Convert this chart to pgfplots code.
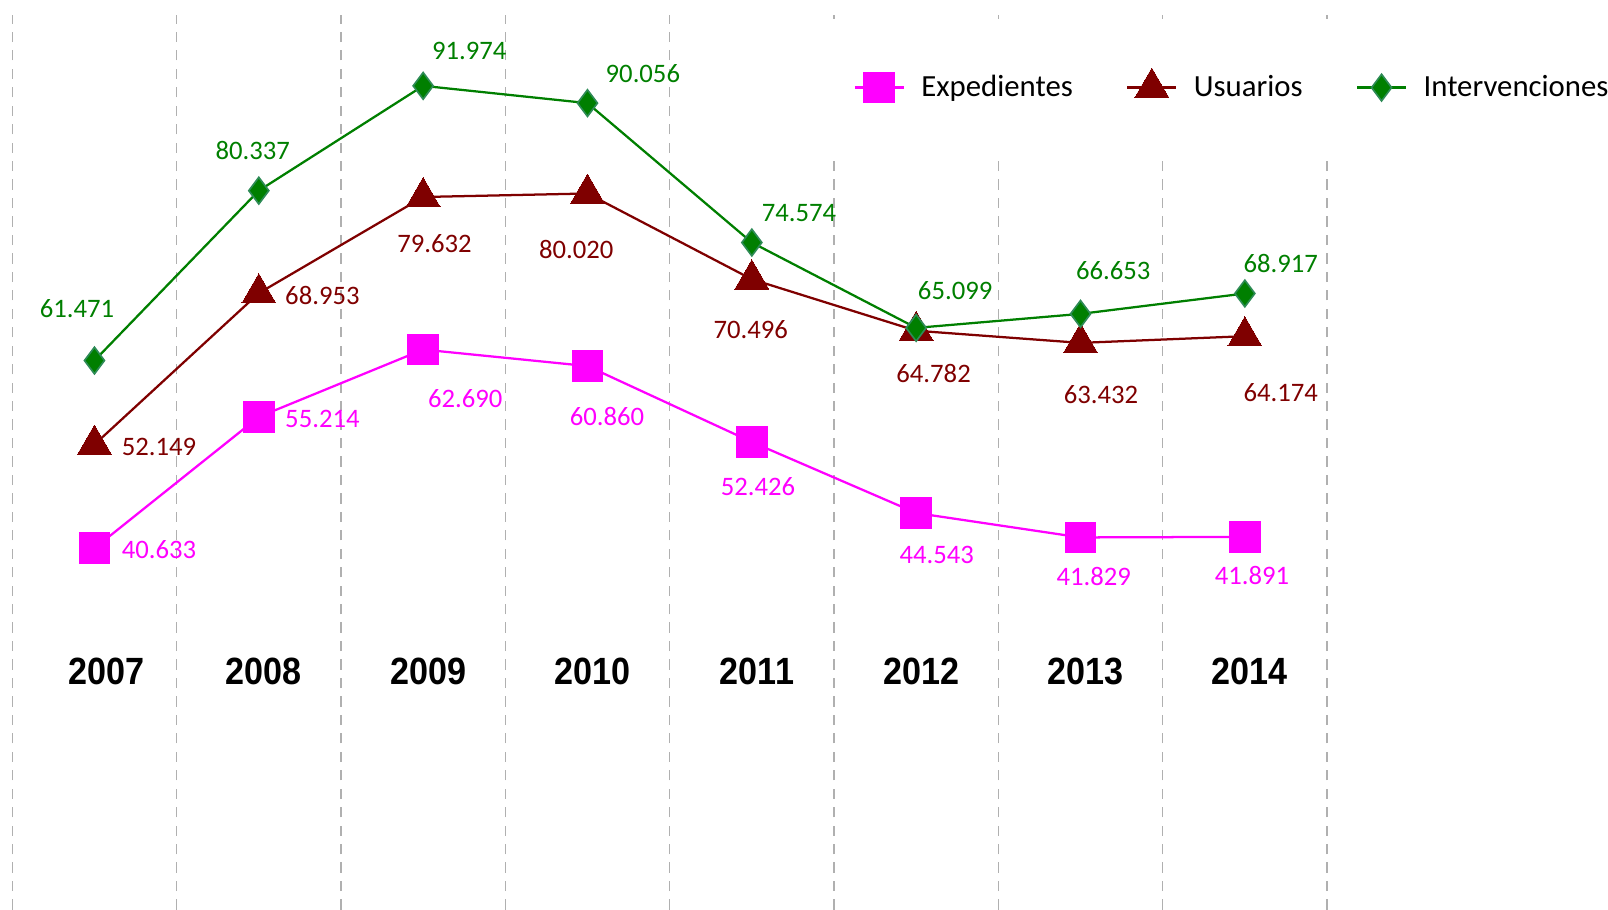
\documentclass[border=0pt]{standalone}
\usepackage{fontspec}
\setmainfont{Carlito}
\newfontfamily\yearfont[FakeStretch=0.9]{Liberation Sans}
\usepackage{pgfplots}
\usepackage{pgfplotstable}
\pgfplotsset{compat=1.18}
\definecolor{cexp}{HTML}{FF00FF}
\definecolor{cusu}{HTML}{7F0000}
\definecolor{cint}{HTML}{007F00}
\definecolor{cintedge}{HTML}{2E8B57}
\definecolor{gridc}{HTML}{B0B0B0}

\pgfplotstableread{
x y lab dx dy
0 40.633 40.633 31.5 -0.5
1 55.214 55.214 31 -1
2 62.690 62.690 20.5 -24
3 60.860 60.860 9.5 -24.5
4 52.426 52.426 3 -21.5
5 44.543 44.543 10 -20.5
6 41.829 41.829 6.5 -19
7 41.891 41.891 3.5 -19
}\expTable

\pgfplotstableread{
x y lab dx dy
0 52.149 52.149 31.5 -1
1 68.953 68.953 31 -1
2 79.632 79.632 5.5 -22.5
3 80.020 80.020 -5.5 -27.5
4 70.496 70.496 -0.5 -24.5
5 64.782 64.782 8.5 -21
6 63.432 63.432 10 -25
7 64.174 64.174 17.5 -27.5
}\usuTable

\pgfplotstableread{
x y lab dx dy
0 61.471 61.471 -8.5 25.5
1 80.337 80.337 -3 19.5
2 91.974 91.974 22.5 17
3 90.056 90.056 27 14.5
4 74.574 74.574 23 14.5
5 65.099 65.099 19 18
6 66.653 66.653 16 21
7 68.917 68.917 17.5 14.5
}\intTable

\begin{document}
\begin{tikzpicture}
\begin{axis}[
  scale only axis,
  width=641pt, height=436pt,
  xmin=-0.5, xmax=7.5, ymin=0.5, ymax=99.8,
  axis line style={draw=none},
  major tick length=0pt, minor tick length=0pt,
  ytick=\empty,
  xtick={0,...,7},
  xticklabels={\hspace{7pt}2007,2008,2009,2010,2011,2012,2013,2014},
  xticklabel style={font=\yearfont\bfseries\fontsize{18.5}{20}\selectfont, anchor=center, yshift=116pt, xshift=2.5pt},
  minor xtick={-0.5,0.5,...,7.5},
  xminorgrids=true,
  minor x grid style={gridc, line width=0.6pt, dash pattern=on 5pt off 4pt},
  clip=false,
  legend columns=3,
  legend cell align=left,
  legend style={at={(rel axis cs:0.6178,0.921)}, anchor=west, draw=none, fill=white,
    inner xsep=14pt, inner ysep=24pt,
    font=\fontsize{15}{17}\selectfont,
    /tikz/every odd column/.append style={column sep=6pt},
    /tikz/every even column/.append style={column sep=24pt}},
  legend image code/.code={
    \draw[mark repeat=2,mark phase=2,#1] plot coordinates {(0cm,0cm) (0.42cm,0cm) (0.84cm,0cm)};
  },
  nodes near coords,
  point meta=explicit symbolic,
  visualization depends on={\thisrow{dx}\as\dx},
  visualization depends on={\thisrow{dy}\as\dy},
]
\addplot[cexp, line width=1.1pt, mark=square*, mark size=7.5pt, mark options={fill=cexp, draw=cexp, line width=0pt},
  every node near coord/.append style={anchor=center, xshift=\dx, yshift=\dy, text=cexp, font=\fontsize{13}{15}\selectfont}]
  table[x=x, y=y, meta=lab] {\expTable};
\addlegendentry{Expedientes}
\addplot[cusu, line width=1.1pt, mark=triangle*, mark size=9.5pt, mark options={fill=cusu, draw=cusu, line width=0pt},
  every node near coord/.append style={anchor=center, xshift=\dx, yshift=\dy, text=cusu, font=\fontsize{13}{15}\selectfont}]
  table[x=x, y=y, meta=lab] {\usuTable};
\addlegendentry{Usuarios}
\addplot[cint, line width=1.1pt, mark=diamond*, mark size=6.5pt, mark options={fill=cint, draw=cintedge, line width=0.8pt},
  every node near coord/.append style={anchor=center, xshift=\dx, yshift=\dy, text=cint, font=\fontsize{13}{15}\selectfont}]
  table[x=x, y=y, meta=lab] {\intTable};
\addlegendentry{Intervenciones}
\coordinate (sw) at (rel axis cs:0,0);
\coordinate (ne) at (rel axis cs:1,1);
\end{axis}
\pgfresetboundingbox
\path ([shift={(-6pt,0pt)}]sw) rectangle ([shift={(137pt,7.5pt)}]ne);
\end{tikzpicture}
\end{document}
